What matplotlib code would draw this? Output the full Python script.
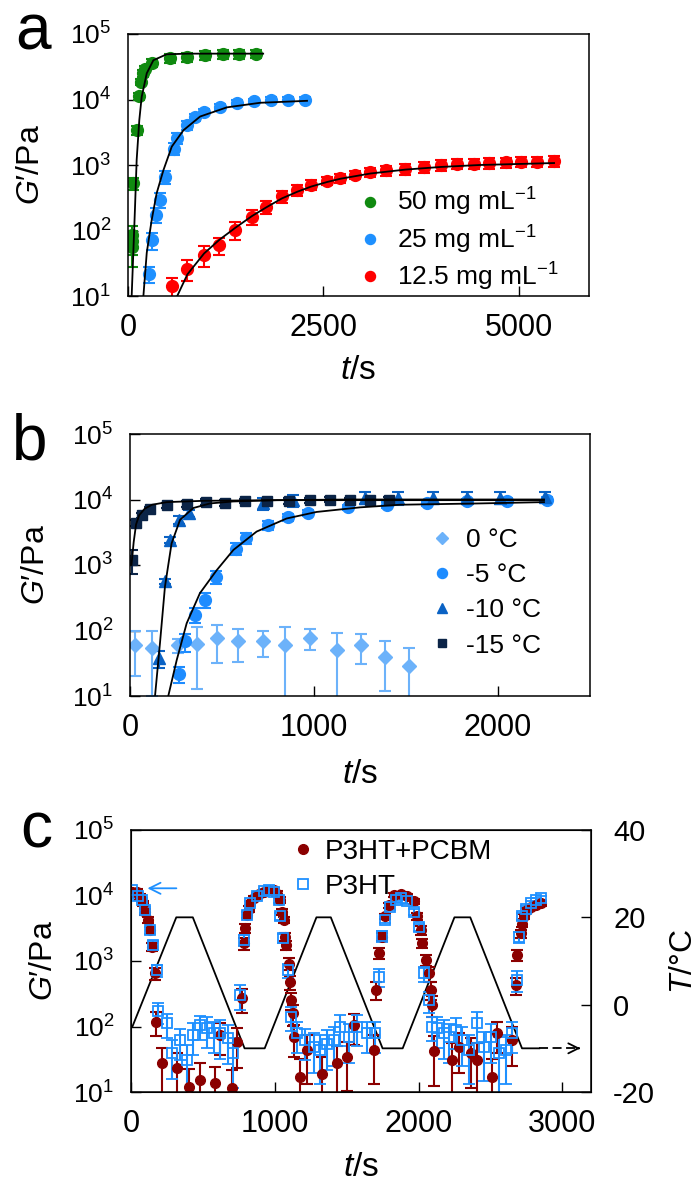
import numpy as np
import matplotlib
matplotlib.use('Agg')
import matplotlib.pyplot as plt
from matplotlib.ticker import FixedLocator, FuncFormatter, NullLocator

plt.rcParams['font.family'] = ['Liberation Sans', 'DejaVu Sans']
plt.rcParams['mathtext.fontset'] = 'custom'
plt.rcParams['mathtext.rm'] = 'Liberation Sans'
plt.rcParams['mathtext.it'] = 'Liberation Sans:italic'
plt.rcParams['mathtext.bf'] = 'Liberation Sans:bold'
plt.rcParams['axes.unicode_minus'] = False

# ---- panel a: gelation at different concentrations ----
a_labels = ['50 mg mL$^{-1}$', '25 mg mL$^{-1}$', '12.5 mg mL$^{-1}$']

a50_t = [50, 53, 56, 60, 112, 140, 165, 190, 215, 305, 540, 760, 990, 1220, 1420, 1640]
a50_G = [56, 70, 85, 525, 3400, 11200, 18600, 25100, 29500, 36300, 42700, 44700, 47900, 49000, 49000, 50100]
a50_err = [0.5, 0.4, 0.4, 0.2, 0.15, 0.12, 0.12, 0.12, 0.12, 0.15, 0.15, 0.15, 0.15, 0.15, 0.15, 0.15]

a25_t = [273, 303, 359, 410, 474, 590, 632, 760, 859, 974, 1180, 1393, 1616, 1830, 2051, 2269]
a25_G = [22, 71, 174, 295, 660, 1780, 2570, 4070, 5370, 6460, 7760, 8910, 9330, 9770, 10000, 10000]
a25_err = [0.27, 0.3, 0.26, 0.25, 0.22, 0.2, 0.18, 0.15, 0.12, 0.1, 0.1, 0.1, 0.1, 0.1, 0.1, 0.1]

a12_t = [560, 760, 974, 1171, 1372, 1586, 1765, 1970, 2163, 2342, 2547, 2718, 2910, 3102, 3300,
         3551, 3786, 4000, 4214, 4427, 4619, 4833, 5026, 5239, 5453]
a12_G = [14, 26, 43, 60, 102, 162, 229, 331, 417, 501, 575, 631, 708, 776, 832,
         871, 933, 1000, 1047, 1047, 1072, 1096, 1122, 1122, 1148]
a12_err = [0.35, 0.35, 0.35, 0.3, 0.3, 0.25, 0.22, 0.2, 0.2, 0.18, 0.15, 0.15, 0.15, 0.15, 0.18,
           0.18, 0.18, 0.18, 0.18, 0.18, 0.18, 0.18, 0.18, 0.18, 0.18]

# fitted curves (log10 G')
fit50_t = [47, 68, 90, 111, 145, 175, 240, 325, 495, 760, 1200, 1730]
fit50_logG = [1.0, 1.66, 2.36, 3.08, 3.69, 4.04, 4.40, 4.60, 4.69, 4.70, 4.70, 4.70]
fit25_t = [197, 240, 303, 367, 453, 560, 709, 923, 1265, 1692, 2291]
fit25_logG = [1.0, 1.66, 2.16, 2.57, 2.92, 3.28, 3.53, 3.74, 3.88, 3.95, 3.98]
fit12_t = [630, 760, 974, 1171, 1372, 1586, 1765, 1970, 2163, 2342, 2547, 2718, 3102, 3551, 4000, 4500, 5453]
fit12_logG = [1.0, 1.33, 1.65, 1.86, 2.04, 2.22, 2.35, 2.49, 2.59, 2.67, 2.74, 2.79, 2.87, 2.93, 2.97, 3.0, 3.03]

# ---- panel b: gelation at different temperatures ----
b_labels = ['0 °C', '-5 °C', '-10 °C', '-15 °C']

b0_t = [27, 121, 263, 366, 475, 589, 725, 842, 978, 1127, 1254, 1386, 1518]
b0_G = [60, 55, 60, 63, 76, 69, 69, 60, 78, 50, 60, 40, 29]
b0_err = [40, 45, 15, 50, 44, 36, 29, 55, 27, 43, 29, 28, 25]

b5_t = [266, 299, 353, 408, 467, 576, 630, 752, 860, 969, 1187, 1398, 1612, 1830, 2047, 2264]
b5_G = [22, 68, 174, 295, 660, 1780, 2570, 4070, 5370, 6310, 7590, 8320, 8710, 9330, 9550, 9770]
b5_err = [0.27, 0.3, 0.26, 0.25, 0.22, 0.2, 0.18, 0.15, 0.12, 0.1, 0.1, 0.1, 0.1, 0.1, 0.1, 0.1]

b10_t = [159, 190, 217, 268, 322, 725, 888, 1277, 1458, 1649, 1830, 2011, 2255]
b10_G = [38, 560, 2400, 4900, 6170, 8710, 9770, 10700, 10700, 10700, 10700, 10700, 11000]
b10_err = [0.3, 0.1, 0.1, 0.15, 0.12, 0.2, 0.2, 0.2, 0.22, 0.2, 0.2, 0.2, 0.18]

b15_t = [9, 33, 63, 109, 199, 308, 413, 516, 625, 743, 866, 978, 1087, 1196, 1304, 1409]
b15_G = [1200, 4370, 5750, 7080, 8130, 8510, 9120, 8910, 9550, 9330, 9550, 9770, 10000, 9770, 9770, 10000]
b15_err = [0.4, 0.1, 0.08, 0.08, 0.08, 0.1, 0.1, 0.12, 0.08, 0.1, 0.1, 0.08, 0.1, 0.08, 0.1, 0.1]

fit5_t = [208, 254, 308, 380, 471, 562, 688, 851, 1014, 1250, 1467, 1900, 2250]
fit5_logG = [1.0, 1.55, 2.11, 2.57, 2.92, 3.23, 3.51, 3.71, 3.81, 3.88, 3.92, 3.94, 3.96]
fit10_t = [136, 163, 190, 226, 272, 344, 435, 560, 800, 1200, 2250]
fit10_logG = [1.0, 1.81, 2.67, 3.33, 3.69, 3.87, 3.94, 3.97, 3.99, 4.0, 4.0]
fit15_t = [8, 20, 33, 50, 80, 120, 200, 400, 800, 2250]
fit15_logG = [3.0, 3.35, 3.62, 3.76, 3.86, 3.92, 3.96, 3.98, 3.99, 3.99]

# ---- panel c: temperature cycling ----
c_labels = ['P3HT+PCBM', 'P3HT']

c_pcbm_t = [5, 39, 63, 81, 98, 121, 132, 144, 167, 174,
            214, 318, 400, 481, 585, 620, 701, 736, 771, 783,
            794, 806, 818, 829, 853, 887, 922, 957, 992, 1015,
            1034, 1050, 1062, 1069, 1080, 1096, 1108, 1115, 1127, 1131,
            1178, 1224, 1329, 1433, 1503, 1549, 1689, 1707, 1724, 1747,
            1770, 1793, 1828, 1875, 1921, 1968, 1991, 2014, 2026, 2049,
            2072, 2084, 2096, 2107, 2235, 2281, 2362, 2409, 2514, 2549,
            2653, 2677, 2688, 2711, 2723, 2735, 2758, 2781, 2816, 2851]
c_pcbm_logG = [4.06, 4.06, 3.98, 3.88, 3.75, 3.63, 3.47, 3.22, 2.81, 2.07,
               1.44, 1.36, 1.08, 1.18, 1.13, 1.87, 1.06, 1.77, 2.43, 3.27,
               3.50, 3.70, 3.80, 3.89, 3.96, 4.02, 4.06, 4.09, 4.08, 4.03,
               3.93, 3.75, 3.63, 3.37, 3.24, 2.96, 2.68, 2.40, 2.20, 1.84,
               1.23, 1.64, 1.28, 1.44, 1.54, 2.02, 1.64, 2.56, 3.12, 3.37,
               3.68, 3.85, 4.01, 4.02, 3.99, 3.91, 3.68, 3.47, 3.27, 3.02,
               2.81, 2.56, 2.33, 1.62, 1.49, 1.69, 1.59, 1.49, 1.23, 1.90,
               1.79, 2.63, 3.09, 3.42, 3.57, 3.68, 3.78, 3.82, 3.85, 3.88]
c_pcbm_err = [0.08, 0.08, 0.1, 0.1, 0.1, 0.12, 0.12, 0.15, 0.2, 0.4,
              0.7, 0.7, 0.9, 0.8, 0.8, 0.5, 0.9, 0.6, 0.4, 0.2,
              0.15, 0.1, 0.1, 0.08, 0.08, 0.08, 0.08, 0.08, 0.08, 0.08,
              0.1, 0.1, 0.12, 0.15, 0.15, 0.2, 0.25, 0.3, 0.35, 0.5,
              0.9, 0.7, 0.8, 0.8, 0.7, 0.5, 0.7, 0.3, 0.2, 0.15,
              0.1, 0.08, 0.08, 0.08, 0.08, 0.1, 0.12, 0.15, 0.15, 0.2,
              0.25, 0.3, 0.35, 0.7, 0.8, 0.6, 0.7, 0.8, 0.9, 0.5,
              0.6, 0.3, 0.2, 0.15, 0.12, 0.1, 0.08, 0.08, 0.08, 0.08]

c_p3ht_t = [5, 51, 74, 98, 132, 156, 179, 190, 249, 283,
            341, 393, 434, 481, 527, 574, 620, 678, 713, 760,
            783, 806, 829, 876, 922, 957, 992, 1027, 1038, 1057,
            1089, 1113, 1154, 1213, 1271, 1317, 1364, 1410, 1457, 1515,
            1573, 1642, 1700, 1724, 1747, 1770, 1805, 1840, 1875, 1921,
            1968, 2003, 2038, 2072, 2096, 2130, 2177, 2212, 2258, 2305,
            2351, 2409, 2456, 2502, 2560, 2607, 2653, 2688, 2700, 2723,
            2746, 2781, 2816, 2851]
c_p3ht_logG = [4.08, 4.00, 3.93, 3.78, 3.47, 3.24, 2.86, 2.23, 2.05, 1.59,
               1.79, 1.49, 1.87, 2.02, 1.97, 1.90, 1.90, 1.82, 1.59, 2.48,
               3.32, 3.70, 3.88, 4.00, 4.07, 4.08, 4.06, 3.93, 3.68, 3.35,
               2.86, 2.15, 1.90, 1.79, 1.69, 1.64, 1.74, 1.79, 2.00, 1.84,
               2.00, 1.90, 1.90, 2.76, 3.38, 3.63, 3.83, 3.93, 3.96, 3.91,
               3.75, 3.52, 2.81, 2.40, 2.00, 1.97, 1.90, 1.84, 1.95, 1.79,
               1.64, 2.05, 1.69, 1.84, 1.59, 1.64, 1.90, 2.71, 3.37, 3.68,
               3.80, 3.88, 3.93, 3.96]
c_p3ht_err = [0.06, 0.08, 0.08, 0.1, 0.12, 0.15, 0.2, 0.35, 0.4, 0.6,
              0.5, 0.7, 0.5, 0.4, 0.5, 0.5, 0.6, 0.6, 0.7, 0.4,
              0.2, 0.1, 0.08, 0.08, 0.06, 0.06, 0.08, 0.1, 0.12, 0.15,
              0.25, 0.4, 0.5, 0.5, 0.6, 0.7, 0.6, 0.6, 0.5, 0.6,
              0.5, 0.5, 0.5, 0.3, 0.2, 0.12, 0.1, 0.08, 0.08, 0.08,
              0.1, 0.12, 0.25, 0.35, 0.4, 0.5, 0.6, 0.6, 0.5, 0.6,
              0.7, 0.5, 0.7, 0.6, 0.8, 0.7, 0.5, 0.35, 0.2, 0.12,
              0.1, 0.08, 0.08, 0.06]

# temperature program
temp_t = [10, 315, 430, 790, 930, 1290, 1390, 1750, 1890, 2250, 2360, 2720, 2840]
temp_T = [-5, 20, 20, -10, -10, 20, 20, -10, -10, 20, 20, -10, -10]

W, H = 698, 1183


def box(l, t, r, b):
    """axes rectangle from pixel edges"""
    return [l / W, (H - b) / H, (r - l) / W, (b - t) / H]


def style_axes(ax, xticks, xmax):
    ax.set_yscale('log')
    ax.set_ylim(10, 1e5)
    ax.set_xlim(0, xmax)
    ax.set_xticks(xticks)
    ax.yaxis.set_major_locator(FixedLocator([1e1, 1e2, 1e3, 1e4, 1e5]))
    ax.yaxis.set_minor_locator(NullLocator())
    ax.yaxis.set_major_formatter(FuncFormatter(lambda v, p: '$10^{%d}$' % round(np.log10(v))))
    ax.tick_params(axis='x', direction='in', length=7, width=1, labelsize=22, pad=12)
    ax.tick_params(axis='y', direction='in', length=7, width=1, labelsize=19, pad=12)
    for s in ax.spines.values():
        s.set_linewidth(1.1)
    ax.set_ylabel('$G$′/Pa', fontsize=23)
    ax.set_xlabel('$t$/s', fontsize=24)


def errplot(ax, t, G, err, color, marker, ms, **kw):
    return ax.errorbar(t, G, yerr=err, fmt=marker, color=color, mec=color, ms=ms,
                       elinewidth=1.5, capsize=4, capthick=1.5, ls='none', **kw)


# create figure
fig = plt.figure(figsize=(W / 100, H / 100), dpi=100)

# ---------------- panel a ----------------
ax = fig.add_axes(box(128, 34, 589, 296))
style_axes(ax, [0, 2500, 5000], 5900)
handles = []
for t, G, e, c in [(a50_t, a50_G, a50_err, '#108A10'),
                   (a25_t, a25_G, a25_err, '#1E90FF'),
                   (a12_t, a12_G, a12_err, '#FF0000')]:
    eb = errplot(ax, t, G, np.array(e) * np.array(G), c, 'o', 8.5)
    handles.append(eb[0])
for t, lg in [(fit50_t, fit50_logG), (fit25_t, fit25_logG), (fit12_t, fit12_logG)]:
    ax.plot(t, 10 ** np.array(lg), color='k', lw=1.3, zorder=4)
ax.legend(handles, a_labels, loc='upper left', bbox_to_anchor=(0.497, 0.42), frameon=False,
          fontsize=19, handlelength=1, handletextpad=0.5, labelspacing=0.2,
          borderpad=0, borderaxespad=0, numpoints=1, markerscale=0.85)
ax.yaxis.set_label_coords(-0.178, 0.5)
ax.xaxis.set_label_coords(0.5, -0.225)

# ---------------- panel b ----------------
ax = fig.add_axes(box(130, 434, 590, 696))
style_axes(ax, [0, 1000, 2000], 2500)
handles = []
eb = errplot(ax, b0_t, b0_G, b0_err, '#6CB2FA', 'D', 7.5)
handles.append(eb[0])
for t, G, e, c, m, ms in [(b5_t, b5_G, b5_err, '#1E8CFF', 'o', 8.5),
                          (b10_t, b10_G, b10_err, '#0A62C4', '^', 8.5),
                          (b15_t, b15_G, b15_err, '#0B2447', 's', 7.5)]:
    eb = errplot(ax, t, G, np.array(e) * np.array(G), c, m, ms)
    handles.append(eb[0])
for t, lg in [(fit5_t, fit5_logG), (fit10_t, fit10_logG), (fit15_t, fit15_logG)]:
    ax.plot(t, 10 ** np.array(lg), color='k', lw=1.3, zorder=4)
ax.legend(handles, b_labels, loc='upper left', bbox_to_anchor=(0.65, 0.64), frameon=False,
          fontsize=19, handlelength=1, handletextpad=0.4, labelspacing=0.42,
          borderpad=0, borderaxespad=0, numpoints=1, markerscale=0.85)
ax.yaxis.set_label_coords(-0.172, 0.5)
ax.xaxis.set_label_coords(0.5, -0.24)

# ---------------- panel c ----------------
ax = fig.add_axes(box(131, 830, 591, 1092))
style_axes(ax, [0, 1000, 2000, 3000], 3200)
ax2 = ax.twinx()
ax2.set_ylim(-20, 40)
ax2.set_yticks([-20, 0, 20, 40])
ax2.tick_params(axis='y', direction='in', length=7, width=1, labelsize=21, pad=16)
ax2.set_ylabel('$T$/°C', fontsize=23)
ax2.yaxis.set_label_coords(1.17, 0.5)
ax2.plot(temp_t, temp_T, color='k', lw=1.3)
ax2.plot([temp_t[-1], 3110], [temp_T[-1], temp_T[-1]], color='k', lw=1.3, dashes=(5, 2.5))
ax2.annotate('', xy=(3145, temp_T[-1]), xytext=(3095, temp_T[-1]),
             arrowprops=dict(arrowstyle='->', color='k', lw=1.3, mutation_scale=18))
ax.set_zorder(ax2.get_zorder() + 1)
ax.patch.set_visible(False)

G = 10 ** np.array(c_pcbm_logG)
eb1 = errplot(ax, c_pcbm_t, G, np.array(c_pcbm_err) * G, '#8B0000', 'o', 7)
G = 10 ** np.array(c_p3ht_logG)
eb2 = ax.errorbar(c_p3ht_t, G, yerr=np.array(c_p3ht_err) * G, fmt='s', color='#1E90FF',
                  mec='#1E90FF', mfc='none', mew=1.3, ms=6.5, elinewidth=1.5,
                  capsize=4, capthick=1.5, ls='none')
ax.annotate('', xy=(95, 10 ** 4.11), xytext=(335, 10 ** 4.11),
            arrowprops=dict(arrowstyle='->', color='#1E90FF', lw=1.3, mutation_scale=20))
ax.legend([eb1[0], eb2[0]], c_labels, loc='upper left', bbox_to_anchor=(0.343, 0.965),
          frameon=False, fontsize=20, handlelength=1, handletextpad=0.3, labelspacing=0.32,
          borderpad=0, borderaxespad=0, numpoints=1)
ax.yaxis.set_label_coords(-0.157, 0.5)
ax.xaxis.set_label_coords(0.5, -0.228)

# panel letters
fig.text(15 / W, 1 - 50 / H, 'a', fontsize=46, va='baseline')
fig.text(12 / W, 1 - 460 / H, 'b', fontsize=46, va='baseline')
fig.text(20 / W, 1 - 847 / H, 'c', fontsize=46, va='baseline')

# save figure
fig.savefig('out.png', dpi=100)
